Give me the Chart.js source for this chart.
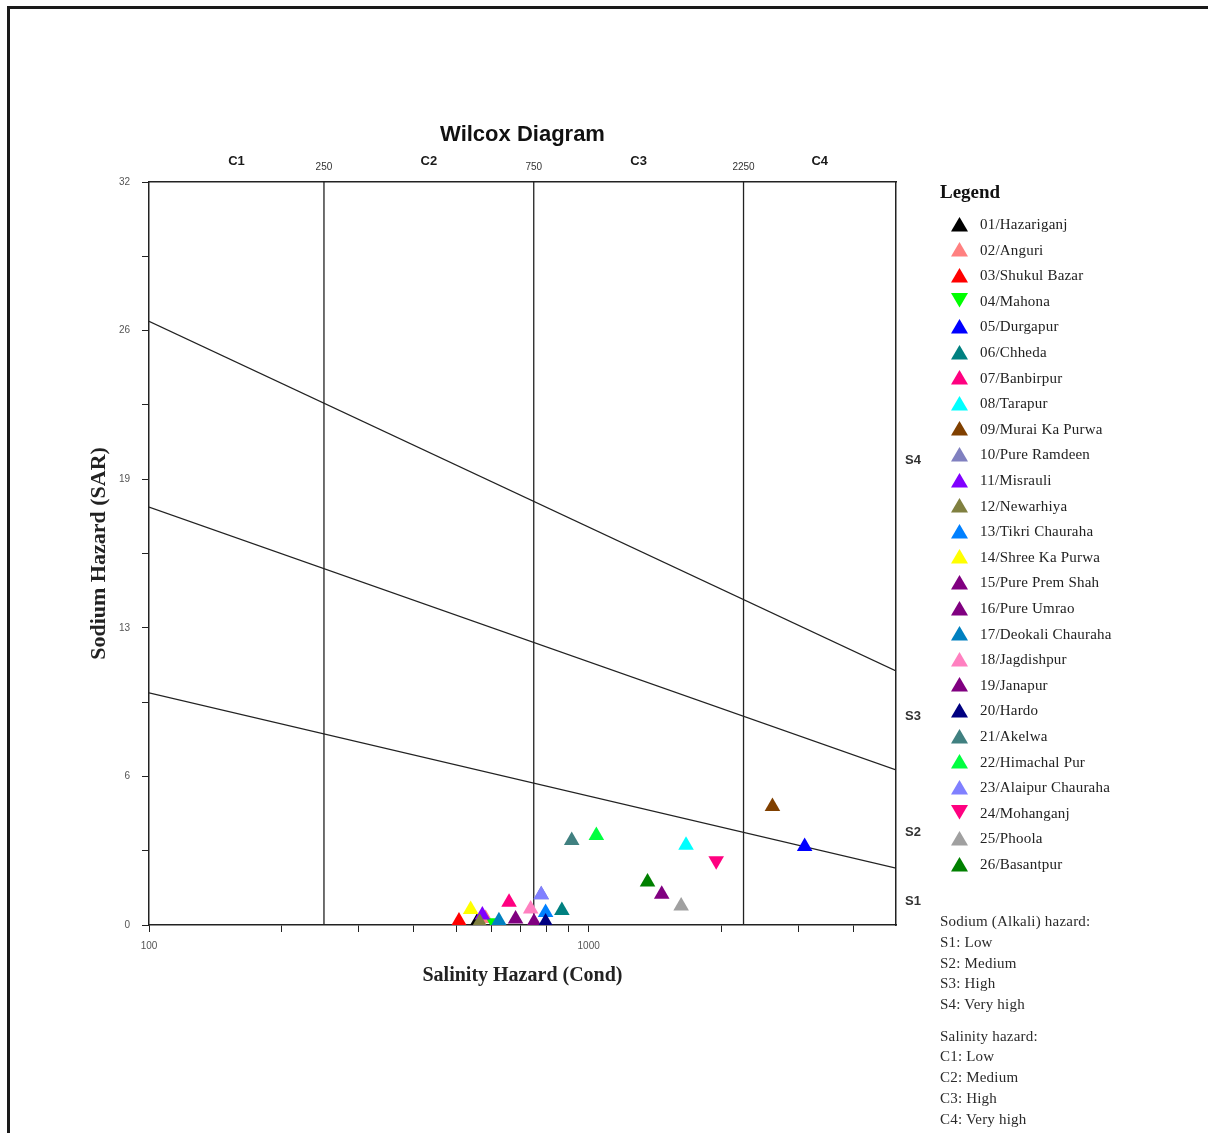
<!DOCTYPE html>
<html>
<head>
<meta charset="utf-8">
<script src="https://cdn.jsdelivr.net/npm/chart.js@4.4.1/dist/chart.umd.min.js"></script>
<style>
html,body{margin:0;padding:0;background:#fff;}
body{width:1208px;height:1133px;position:relative;overflow:hidden;}
#frame{position:absolute;left:7px;top:6px;width:1400px;height:1400px;border:3px solid #1a1a1a;box-sizing:border-box;}
#wrap{position:absolute;left:0;top:0;width:1208px;height:1133px;}
#legend{position:absolute;left:0;top:0;width:1208px;height:1133px;pointer-events:none;font-family:"Liberation Serif","Times New Roman",serif;color:#222;}
#legend .hd{position:absolute;left:940px;font-weight:bold;font-size:19px;line-height:22px;color:#111;}
#legend .row{position:absolute;left:980px;font-size:15px;line-height:18px;white-space:nowrap;letter-spacing:0.2px;}
#legend svg{position:absolute;left:951px;}
#legend .note{position:absolute;left:940px;font-size:15px;line-height:18px;white-space:nowrap;color:#2a2a2a;letter-spacing:0.2px;}
</style>
</head>
<body>
<div id="frame"></div>
<div id="wrap"><canvas id="c"></canvas></div>
<div id="legend"></div>
<script>
// ---- data ----
const stations = ['01/Hazariganj','02/Anguri','03/Shukul Bazar','04/Mahona','05/Durgapur','06/Chheda','07/Banbirpur','08/Tarapur','09/Murai Ka Purwa','10/Pure Ramdeen','11/Misrauli','12/Newarhiya','13/Tikri Chauraha','14/Shree Ka Purwa','15/Pure Prem Shah','16/Pure Umrao','17/Deokali Chauraha','18/Jagdishpur','19/Janapur','20/Hardo','21/Akelwa','22/Himachal Pur','23/Alaipur Chauraha','24/Mohanganj','25/Phoola','26/Basantpur'];
const stationColors = ['#000000','#ff8080','#ff0000','#00ff00','#0000ff','#008080','#ff0080','#00ffff','#804000','#8080c0','#8000ff','#808040','#0080ff','#ffff00','#800080','#800080','#0080c0','#ff80c0','#800080','#000080','#408080','#00ff40','#8080ff','#ff0080','#a0a0a0','#008000'];
const markerRotation = [0,0,0,180,0,0,0,0,0,0,0,0,0,0,0,0,0,0,0,0,0,0,0,180,0,0];
const salinity = [557,583,507,609,3099,869,659,1665,2618,780,573,565,798,539,1466,682,625,738,751,798,915,1041,780,1950,1623,1361];
const sar      = [0.12,0.28,0.17,0.10,3.38,0.62,0.98,3.43,5.10,1.30,0.43,0.12,0.54,0.67,1.32,0.26,0.18,0.69,0.13,0.13,3.64,3.86,1.30,2.77,0.82,1.85];

const classBounds = [100,250,750,2250,5000];
const classLabels = ['C1','C2','C3','C4'];
const sodiumLabelSAR = [1,4,9,20];
const sodiumLabels = ['S1','S2','S3','S4'];
const boundaryLeftSAR = [10,18,26];
const boundaryRightSAR = [2.45,6.68,10.94];
const xTickValues = [100,200,300,400,500,600,700,800,900,1000,2000,3000,4000];
const xTickLabels = ['100','','','','','','','','','1000','','',''];
const yTickValues = [0,3.2,6.4,9.6,12.8,16,19.2,22.4,25.6,28.8,32];
const yTickLabels = ['0','','6','','13','','19','','26','','32'];
const sodiumNotes = ['Sodium (Alkali) hazard:','S1: Low','S2: Medium','S3: High','S4: Very high'];
const salinityNotes = ['Salinity hazard:','C1: Low','C2: Medium','C3: High','C4: Very high'];

// top axis: class names (centred in each class) and class boundaries
const topTicks = [];
classLabels.forEach((c, i) => {
  topTicks.push({value: Math.sqrt(classBounds[i] * classBounds[i+1]), text: c, isClass: true});
  if (i < 3) topTicks.push({value: classBounds[i+1], text: String(classBounds[i+1]), isClass: false});
});

// ---- datasets ----
const datasets = [];
stations.forEach((name,i)=>{
  datasets.push({
    label: name,
    data: [{x: salinity[i], y: sar[i]}],
    pointStyle: 'triangle',
    rotation: markerRotation[i],
    pointRadius: 9,
    pointHoverRadius: 9,
    backgroundColor: stationColors[i],
    borderColor: stationColors[i],
    borderWidth: 0,
    order: -i
  });
});
const guideStyle = {showLine:true, pointRadius:0, borderColor:'#222', borderWidth:1.3, backgroundColor:'#222', order:1000, isGuide:true};
classBounds.slice(1,4).forEach(b=>{
  datasets.push(Object.assign({label:'', data:[{x:b,y:0},{x:b,y:32}]}, guideStyle));
});
boundaryLeftSAR.forEach((l,i)=>{
  datasets.push(Object.assign({label:'', data:[{x:classBounds[0],y:l},{x:classBounds[4],y:boundaryRightSAR[i]}]}, guideStyle));
});

const sans = '"Liberation Sans", Arial, sans-serif';
const serif = '"Liberation Serif", "Times New Roman", serif';

const chart = new Chart(document.getElementById('c'), {
  type: 'scatter',
  data: {datasets},
  options: {
    responsive: true,
    maintainAspectRatio: false,
    animation: false,
    events: [],
    layout: {padding: {left: 82, right: 282, top: 110, bottom: 143}},
    plugins: {legend: {display: false}, title: {display: false}, tooltip: {enabled: false}},
    scales: {
      x: {
        type: 'logarithmic', position: 'bottom', min: 100, max: 5000,
        afterBuildTicks: s => { s.ticks = xTickValues.map(v => ({value: v})); },
        afterFit: s => { s.height = 65; },
        ticks: {callback: (v, i) => xTickLabels[i], autoSkip: false, maxRotation: 0, minRotation: 0, font: {family: sans, size: 10}, color: '#555', padding: 8},
        grid: {drawOnChartArea: false, drawTicks: true, tickLength: 7, color: '#222', tickColor: '#222', lineWidth: 1},
        border: {display: true, color: '#222', width: 1.5},
        title: {display: true, text: 'Salinity Hazard (Cond)', font: {family: serif, size: 20, weight: 'bold'}, color: '#222', padding: {top: 2, bottom: 2}}
      },
      y: {
        type: 'linear', position: 'left', min: 0, max: 32,
        afterBuildTicks: s => { s.ticks = yTickValues.map(v => ({value: v})); },
        afterFit: s => { s.width = 67; },
        ticks: {callback: (v, i) => yTickLabels[i], autoSkip: false, font: {family: sans, size: 10}, color: '#555', padding: 12},
        grid: {drawOnChartArea: false, drawTicks: true, tickLength: 7, color: '#222', tickColor: '#222', lineWidth: 1},
        border: {display: true, color: '#222', width: 1.5},
        title: {display: true, text: 'Sodium Hazard (SAR)', font: {family: serif, size: 22, weight: 'bold'}, color: '#222', padding: {top: 4, bottom: 4}}
      },
      x2: {
        type: 'logarithmic', position: 'top', min: 100, max: 5000,
        afterBuildTicks: s => { s.ticks = topTicks.map(t => ({value: t.value})); },
        afterFit: s => { s.height = 72; },
        ticks: {
          callback: (v, i) => topTicks[i].text,
          autoSkip: false, maxRotation: 0, minRotation: 0, padding: 9,
          font: ctx => topTicks[ctx.index] && topTicks[ctx.index].isClass
            ? {family: sans, size: 13, weight: 'bold', lineHeight: '24px'}
            : {family: sans, size: 10, lineHeight: '12px'},
          color: ctx => topTicks[ctx.index] && topTicks[ctx.index].isClass ? '#1a1a1a' : '#333'
        },
        grid: {display: false, drawTicks: false},
        border: {display: true, color: '#222', width: 1.5},
        title: {display: true, text: 'Wilcox Diagram', font: {family: sans, size: 22, weight: 'bold'}, color: '#111', padding: {top: 12, bottom: 0}}
      },
      y2: {
        type: 'linear', position: 'right', min: 0, max: 32,
        afterBuildTicks: s => { s.ticks = sodiumLabelSAR.map(v => ({value: v})); },
        afterFit: s => { s.width = 30; },
        ticks: {callback: (v, i) => sodiumLabels[i], autoSkip: false, font: {family: sans, size: 13, weight: 'bold'}, color: '#333', padding: 9},
        grid: {display: false, drawTicks: false},
        border: {display: true, color: '#222', width: 1.5}
      }
    }
  }
});

// ---- HTML legend built from the chart's datasets ----
(function buildLegend(){
  const box = document.getElementById('legend');
  let html = '<div class="hd" style="top:181px">Legend</div>';
  const items = chart.data.datasets.filter(d => !d.isGuide);
  items.forEach((d, i) => {
    const cy = 224 + i * 25.6;
    const pts = d.rotation === 180 ? '0,0 17,0 8.5,14.5' : '0,14.5 8.5,0 17,14.5';
    html += '<svg width="17" height="15" style="top:' + (cy - 7.5) + 'px"><polygon points="' + pts + '" fill="' + d.backgroundColor + '"/></svg>';
    html += '<div class="row" style="top:' + (cy - 9) + 'px">' + d.label + '</div>';
  });
  const noteTops1 = [921, 942, 963, 983, 1004];
  const noteTops2 = [1036, 1056, 1077, 1098, 1119];
  sodiumNotes.forEach((t, i) => { html += '<div class="note" style="top:' + (noteTops1[i] - 9) + 'px">' + t + '</div>'; });
  salinityNotes.forEach((t, i) => { html += '<div class="note" style="top:' + (noteTops2[i] - 9) + 'px">' + t + '</div>'; });
  box.innerHTML = html;
})();
</script>
</body>
</html>
